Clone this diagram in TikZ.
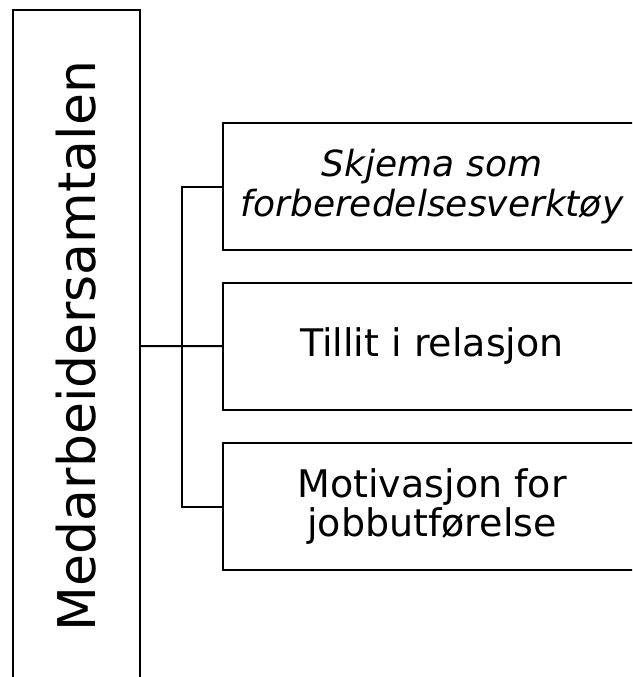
\documentclass[tikz,border=0pt]{standalone}
\usepackage{fontspec}
\setmainfont{DejaVu Sans}
\usetikzlibrary{positioning}

\begin{document}
\begin{tikzpicture}[x=1pt, y=-1pt,
    topic/.style={draw, line width=2pt, minimum width=418pt, minimum height=127pt, inner sep=0pt, align=center, font=\fontsize{38}{39.5}\selectfont},
    link/.style={line width=2pt}]
        % Page frame, boxes run over the edges
        \useasboundingbox[fill=white] (0,0) rectangle (632,677);
        \clip (0,0) rectangle (632,677);

        % Main topic on its side
        \node[draw, line width=2pt, rotate=90, minimum width=672pt, minimum height=127pt, inner sep=0pt, font=\fontsize{52}{56}\selectfont] (samtale) at (76.5,346) {Medarbeidersamtalen};

        % Sub-topics
        \node[topic, font=\fontsize{36}{39.5}\selectfont\itshape] (skjema) at (432,186.5) {Skjema som\\forberedelsesverktøy};
        \node[topic, below=31pt of skjema] (tillit) {Tillit i relasjon};
        \node[topic, below=31pt of tillit] (motivasjon) {Motivasjon for\\jobbutførelse};

        \coordinate (fork) at (182,346);
        \draw[link] (samtale) -- (tillit);
        \draw[link] (skjema.west) -| (fork) |- (motivasjon.west);
    \end{tikzpicture}
\end{document}
